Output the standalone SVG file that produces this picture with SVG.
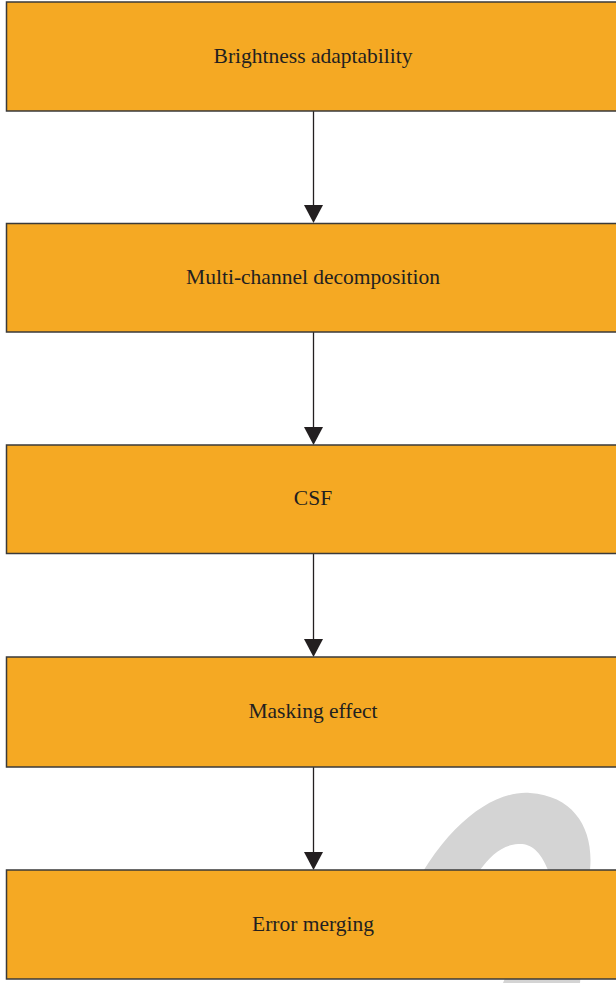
<svg xmlns="http://www.w3.org/2000/svg" width="616" height="983" viewBox="0 0 616 983">
  <style>
    .box { fill: #f5a923; stroke: #3a3a3a; stroke-width: 1.5; }
    .label { font-family: "Liberation Serif", "Times New Roman", serif; font-size: 21.5px; fill: #231f20; text-anchor: middle; }
    .wire { stroke: #231f20; stroke-width: 1.3; fill: none; }
    .head { fill: #231f20; }
  </style>
  <rect width="616" height="983" fill="#ffffff"/>

  <!-- grey arch mark behind the last box -->
  <path d="M 405,905 C 440,830 490,790 530,793 C 575,796 594,830 590,870 L 580,983 L 503,983 C 525,930 545,885 548,870 C 540,850 530,843 518,844 C 502,845 490,856 480,870 L 462,905 Z" fill="#d4d4d4"/>

  <g id="connectors">
    <line class="wire" x1="313.5" y1="111" x2="313.5" y2="207"/>
    <polygon class="head" points="304,205 323,205 313.5,223"/>
    <line class="wire" x1="313.5" y1="332" x2="313.5" y2="429"/>
    <polygon class="head" points="304,427 323,427 313.5,445"/>
    <line class="wire" x1="313.5" y1="554" x2="313.5" y2="641"/>
    <polygon class="head" points="304,639 323,639 313.5,657"/>
    <line class="wire" x1="313.5" y1="767" x2="313.5" y2="854"/>
    <polygon class="head" points="304,852 323,852 313.5,870"/>
  </g>

  <g id="brightness">
    <rect class="box" x="6.5" y="2" width="620" height="109"/>
    <text class="label" x="313" y="63">Brightness adaptability</text>
  </g>
  <g id="multichannel">
    <rect class="box" x="6.5" y="223.5" width="620" height="108.5"/>
    <text class="label" x="313" y="284">Multi-channel decomposition</text>
  </g>
  <g id="csf">
    <rect class="box" x="6.5" y="445" width="620" height="108.5"/>
    <text class="label" x="313" y="505">CSF</text>
  </g>
  <g id="masking">
    <rect class="box" x="6.5" y="657" width="620" height="110"/>
    <text class="label" x="313" y="718">Masking effect</text>
  </g>
  <g id="merging">
    <rect class="box" x="6.5" y="870" width="620" height="109"/>
    <text class="label" x="313" y="931">Error merging</text>
  </g>
</svg>
